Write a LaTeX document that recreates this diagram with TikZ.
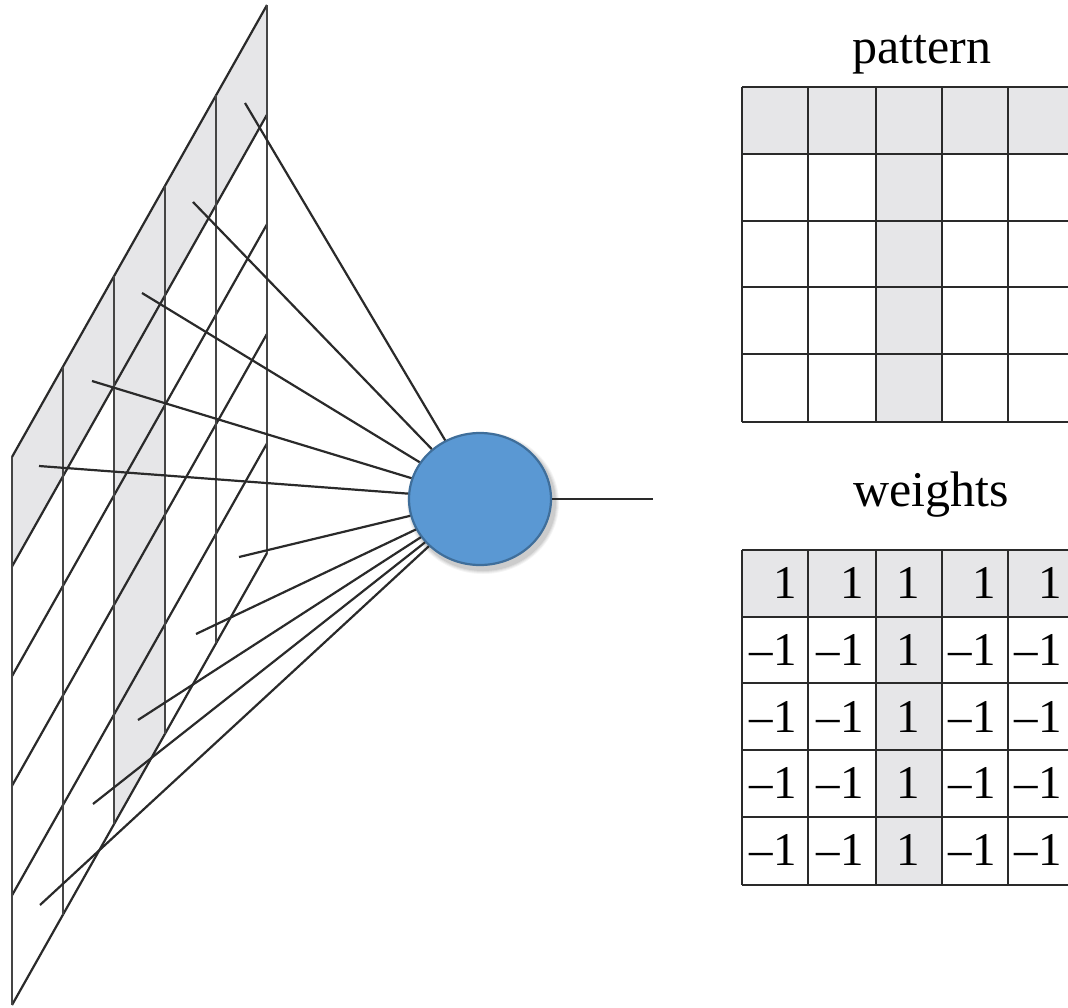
\documentclass[tikz,border=0pt]{standalone}
\usepackage{fontspec}
\setmainfont{Liberation Serif}
\usetikzlibrary{shapes.geometric}
\definecolor{cellgray}{HTML}{E6E6E8}
\definecolor{neuronblue}{HTML}{5A98D3}
\definecolor{neuronedge}{HTML}{3F6E9A}
\definecolor{gridline}{HTML}{2A2A2A}
\definecolor{planeline}{HTML}{454545}
\begin{document}
\begin{tikzpicture}[x=1pt,y=-1pt,
  planev/.style={draw=planeline,line width=2.6pt},
  planeh/.style={draw=gridline,line width=2.2pt},
  conn/.style={draw=gridline,line width=2.2pt},
  tabline/.style={draw=gridline,line width=2.4pt},
  lbl/.style={font=\fontsize{50}{60}\selectfont,inner sep=0pt,anchor=base},
  num/.style={font=\fontsize{47}{56}\selectfont,inner sep=0pt},
  neuronstyle/.style={ellipse,fill=neuronblue,draw=neuronedge,line width=2.2pt,
    minimum width=142pt,minimum height=132pt,inner sep=0pt},
  shadowstyle/.style={ellipse,fill=black,draw=none,inner sep=0pt}
]
\useasboundingbox (0,0) rectangle (1068,1007);

% ---------- plane ----------
\foreach \i in {0,...,5}{
  \foreach \j in {0,...,5}{
    \coordinate (p\i\j) at ({12+51*\i},{457-90.4*\i+109.6*\j});
  }
}
\fill[cellgray] (p00) -- (p50) -- (p51) -- (p01) -- cycle;
\fill[cellgray] (p20) -- (p30) -- (p35) -- (p25) -- cycle;
\foreach \j in {0,...,5}{ \draw[planeh] (p0\j) -- (p5\j); }
\foreach \i in {0,...,5}{ \draw[planev] (p\i0) -- (p\i5); }

% ---------- soft shadow ----------
\foreach \d/\o in {10/0.04,8/0.05,6/0.06,4/0.07}{
  \node[shadowstyle,fill opacity=\o,minimum width={142pt+\d pt},minimum height={132pt+\d pt}]
    (sh\d) at (483,503) {};
}

% ---------- neuron ----------
\node[neuronstyle] (neuron) at (480,499) {};
\coordinate (out) at (653,499);
\draw[conn] (neuron.east) -- (out);

% ---------- connectors ----------
\coordinate (a1) at (245,103);
\coordinate (a2) at (193,202);
\coordinate (a3) at (142,293);
\coordinate (a4) at (92,381);
\coordinate (a5) at (39,466);
\coordinate (b1) at (239,557);
\coordinate (b2) at (196,634);
\coordinate (b3) at (138,720);
\coordinate (b4) at (93,804);
\coordinate (b5) at (40,905);
\foreach \n in {a1,a2,a3,a4,a5,b1,b2,b3,b4,b5}{ \draw[conn] (\n) -- (neuron); }

% ---------- pattern table ----------
\fill[cellgray] (742,87) rectangle (1075,154);
\fill[cellgray] (876,87) rectangle (942,422);
\foreach \y in {87,154,221,287,354,422}{ \draw[tabline] (742,\y) -- (1075,\y); }
\foreach \x in {742,808,876,942,1008}{ \draw[tabline] (\x,87) -- (\x,422); }
\node[lbl] (patternlbl) at (922,63) {pattern};

% ---------- weights table ----------
\fill[cellgray] (742,550) rectangle (1075,617);
\fill[cellgray] (876,550) rectangle (942,885);
\foreach \y in {550,617,683,750,817,885}{ \draw[tabline] (742,\y) -- (1075,\y); }
\foreach \x in {742,808,876,942,1008}{ \draw[tabline] (\x,550) -- (\x,885); }
\node[lbl] (weightslbl) at (931,506) {weights};

% row 1
\foreach \x/\k in {797/1,864/2,996/4,1062/5}{
  \node[num,anchor=base east] (w1\k) at (\x,598) {1};
}
\node[num,anchor=base] (w13) at (908,598) {1};
% rows 2-5
\foreach \y/\r in {665/2,732/3,798/4,865/5}{
  \foreach \x/\k in {797/1,864/2,996/4,1062/5}{
    \node[num,anchor=base east] (w\r\k) at (\x,\y) {–1};
  }
  \node[num,anchor=base] (w\r3) at (908,\y) {1};
}
\end{tikzpicture}
\end{document}
